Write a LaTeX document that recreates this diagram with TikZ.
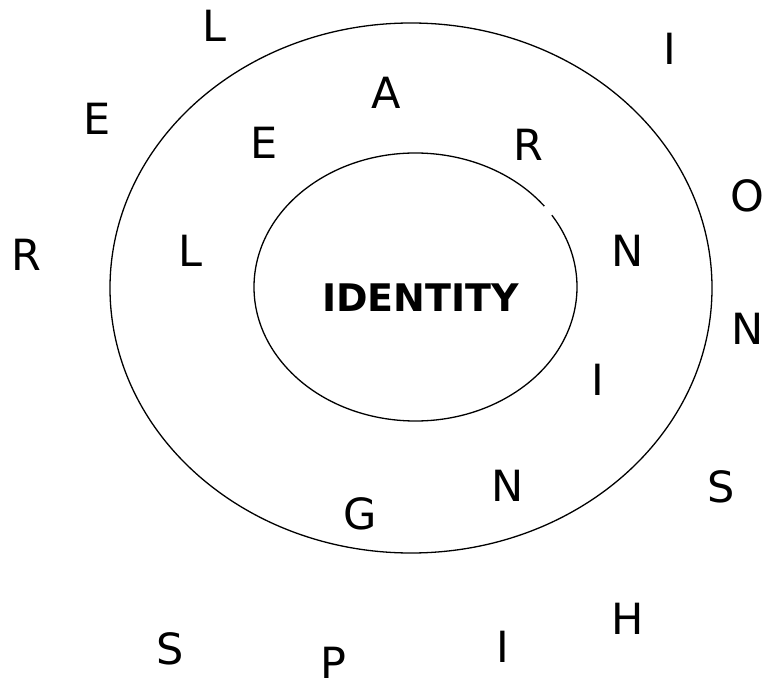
\documentclass[tikz,border=0pt]{standalone}
\usepackage{fontspec}
\setmainfont{DejaVu Sans}
\begin{document}
\begin{tikzpicture}[x=1pt,y=1pt,
  letter/.style={inner sep=0pt, font=\fontsize{43}{43}\selectfont},
  core/.style={inner sep=0pt, font=\fontsize{38}{38}\selectfont\bfseries},
  ring/.style={line width=1.3pt}]
\useasboundingbox (0,0) rectangle (766,689);
% outer ellipse
\coordinate (oc) at (411,401);
\draw[ring] (oc) ellipse [x radius=301pt, y radius=265pt];
% inner ellipse with small gap at upper right
\coordinate (ic) at (415.5,402);
\draw[ring] ([shift={(37.1:161.5pt and 134pt)}]ic) arc[start angle=37.1, end angle=392.4, x radius=161.5pt, y radius=134pt];
\node[core] (id) at (420.5,391.5) {IDENTITY};
% letters
\node[letter] (l1) at (214,663) {L};
\node[letter] (i1) at (670,640) {I};
\node[letter] (e1) at (97.5,570.5) {E};
\node[letter] (a) at (386,596) {A};
\node[letter] (e2) at (264,546) {E};
\node[letter] (r2) at (528,544) {R};
\node[letter] (o) at (747,493) {O};
\node[letter] (r1) at (26,434.5) {R};
\node[letter] (l2) at (190,438.5) {L};
\node[letter] (n1) at (627.5,438.5) {N};
\node[letter] (n2) at (748,360) {N};
\node[letter] (i2) at (598,309) {I};
\node[letter] (n3) at (508,203) {N};
\node[letter] (s1) at (721,202) {S};
\node[letter] (g) at (360,175) {G};
\node[letter] (h) at (628,70) {H};
\node[letter] (s2) at (170,40.5) {S};
\node[letter] (i3) at (502.5,42) {I};
\node[letter] (p) at (333,26) {P};
\end{tikzpicture}
\end{document}
